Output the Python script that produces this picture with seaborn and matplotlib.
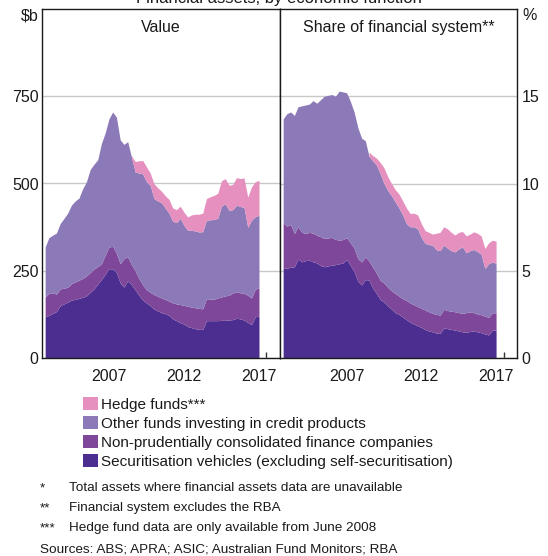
import numpy as np
import pandas as pd
import matplotlib
matplotlib.use("Agg")
import matplotlib.pyplot as plt
import seaborn as sns

sns.set_style("white")
plt.rcParams["font.family"] = ["Liberation Sans", "DejaVu Sans"]

# ---------------- data (quarterly) ----------------
dates = pd.date_range("2003-03-31", periods=58, freq="QE")
years = dates.year + dates.month / 12.0

series_labels = ["Securitisation vehicles (excluding self-securitisation)",
                 "Non-prudentially consolidated finance companies",
                 "Other funds investing in credit products",
                 "Hedge funds***"]
colors = ["#4b2e8f", "#7e479a", "#8c79b7", "#e590bf"]

# Value panel ($b): cumulative stack levels
value_sec_level = [118,122,128,133,150,155,160,166,168,171,174,178,188,198,212,225,240,256,255,245,
                   215,203,222,210,195,180,166,158,150,140,135,130,127,122,112,107,101,97,90,87,
                   84,82,82,107,107,107,107,108,108,109,110,114,112,109,102,96,118,120]
value_np_level = [175,185,187,183,198,200,203,213,218,223,228,235,245,255,262,270,295,318,320,300,
                  270,285,290,268,250,228,210,196,188,182,177,172,168,163,158,155,153,151,148,146,
                  144,142,141,170,169,168,172,175,178,180,186,190,187,185,180,172,197,201]
value_other_level = [318,345,352,358,385,400,415,438,450,458,485,505,540,555,568,615,645,685,705,690,
                     625,612,620,576,533,530,528,505,495,457,450,445,430,415,392,388,400,380,366,366,
                     364,361,362,395,396,397,400,435,442,423,425,438,434,432,374,395,405,409]
value_total_level = [np.nan] * 23 + [580,563,565,566,548,530,500,488,478,465,455,430,425,435,418,
                                     404,410,412,412,415,457,462,466,472,508,514,495,497,517,514,
                                     516,461,490,505,509]

# Share panel (%): cumulative stack levels
share_sec_level = [5.13,5.15,5.2,5.23,5.67,5.51,5.58,5.61,5.51,5.45,5.3,5.23,5.28,5.32,5.35,5.4,5.45,5.65,5.3,4.95,
                   4.4,4.18,4.5,4.45,4.0,3.7,3.35,3.2,3.0,2.8,2.6,2.5,2.35,2.2,2.05,1.95,1.85,1.75,1.63,1.55,
                   1.5,1.43,1.41,1.73,1.68,1.64,1.6,1.55,1.5,1.47,1.52,1.55,1.5,1.45,1.38,1.32,1.6,1.6]
share_np_level = [7.75,7.56,7.65,7.14,7.52,7.2,7.14,7.2,7.15,7.04,6.95,6.85,6.88,6.91,6.8,6.75,6.79,6.9,6.6,6.3,
                  5.7,5.5,5.8,5.55,5.2,4.85,4.45,4.3,4.05,3.85,3.7,3.55,3.4,3.3,3.15,3.05,2.95,2.85,2.75,2.65,
                  2.56,2.5,2.46,2.79,2.72,2.68,2.65,2.6,2.56,2.6,2.65,2.6,2.52,2.48,2.4,2.33,2.59,2.59]
share_other_level = [13.7,14.0,14.1,13.9,14.4,14.45,14.5,14.55,14.75,14.6,14.8,15.0,15.05,15.1,15.0,15.3,15.25,15.2,14.7,14.1,
                     13.2,12.6,12.45,11.55,11.3,11.05,10.55,10.0,9.6,9.3,8.95,8.6,8.2,7.7,7.52,7.52,7.4,6.9,6.57,6.5,
                     6.47,6.2,6.15,6.47,6.3,6.15,6.08,6.25,6.37,6.03,6.15,6.22,6.1,5.95,5.13,5.4,5.51,5.42]
share_total_level = [np.nan] * 23 + [11.8,11.6,11.45,11.2,10.9,10.4,10.0,9.65,9.4,9.0,8.6,8.28,8.3,8.2,7.7,
                                     7.3,7.2,7.1,7.15,7.2,7.52,7.4,7.2,7.05,7.2,7.25,7.0,7.1,7.23,7.15,
                                     7.0,6.28,6.6,6.75,6.7]


def components(levels):
    arr = np.array(levels, dtype=float)
    return np.vstack([arr[0], np.diff(arr, axis=0)])


value_comp = components([value_sec_level, value_np_level, value_other_level, value_total_level])
share_comp = components([share_sec_level, share_np_level, share_other_level, share_total_level])

# ---------------- figure ----------------
W, H = 548, 556
fig = plt.figure(figsize=(W / 100, H / 100), dpi=100)


def rect(x0, x1, y0, y1):
    return [x0 / W, 1 - y1 / H, (x1 - x0) / W, (y1 - y0) / H]


axL = fig.add_axes(rect(42, 280, 9, 358))
axR = fig.add_axes(rect(280, 517, 9, 358))

polys = axL.stackplot(years, value_comp, colors=colors, linewidth=0)
axR.stackplot(years, share_comp, colors=colors, linewidth=0)

fs = 11.5
for ax in (axL, axR):
    ax.set_xlim(2003.04, 2018.9)
    ax.set_xticks(np.arange(2004, 2019))
    ax.set_xticklabels([])
    ax.set_xticks([2007.5, 2012.5, 2017.5], minor=True)
    ax.set_xticklabels(["2007", "2012", "2017"], minor=True)
    ax.tick_params(axis="x", which="major", direction="in", length=4, width=1,
                   color="#333333", bottom=True)
    ax.tick_params(axis="x", which="minor", length=0, pad=8, labelsize=fs,
                   bottom=True, labelcolor="#1a1a1a")
    ax.xaxis.get_major_ticks()[-1].tick1line.set_color("#9a9a9a")
    ax.grid(False)
    ax.yaxis.grid(True, color="#c8c8c8", linewidth=1)
    ax.set_axisbelow(True)
    for s in ax.spines.values():
        s.set_visible(True)
        s.set_color("#1a1a1a")
        s.set_linewidth(1)

axL.set_ylim(0, 1000)
axL.set_yticks([0, 250, 500, 750])
axL.tick_params(axis="y", length=0, pad=2.5, labelsize=fs, labelcolor="#1a1a1a")

axR.set_ylim(0, 20)
axR.set_yticks([0, 5, 10, 15])
axR.yaxis.tick_right()
axR.tick_params(axis="y", length=0, pad=3.5, labelsize=fs, labelcolor="#1a1a1a",
                left=False, labelleft=False, right=True, labelright=True)

axL.text(0.5, 0.948, "Value", transform=axL.transAxes, ha="center", va="center",
         fontsize=fs, color="#1a1a1a")
axR.text(0.5, 0.948, "Share of financial system**", transform=axR.transAxes,
         ha="center", va="center", fontsize=fs, color="#1a1a1a")

fig.text(39 / W, 1 - 16 / H, r"\$b", ha="right", va="center", fontsize=fs, color="#1a1a1a")
fig.text(522 / W, 1 - 16 / H, "%", ha="left", va="center", fontsize=fs, color="#1a1a1a")
fig.text(279 / W, 1 - 3 / H, "Financial assets, by economic function", ha="center",
         va="baseline", fontsize=12, color="#1a1a1a")

fig.legend(polys[::-1], series_labels[::-1], loc="upper left",
           bbox_to_anchor=(83 / W, 1 - 397 / H), frameon=False, fontsize=11,
           handlelength=0.95, handleheight=0.95, handletextpad=0.2,
           labelspacing=0.27, borderpad=0, borderaxespad=0, labelcolor="#1a1a1a")

notes = [("*", "Total assets where financial assets data are unavailable", 488),
         ("**", "Financial system excludes the RBA", 508),
         ("***", "Hedge fund data are only available from June 2008", 528.5)]
for mark, txt, y in notes:
    fig.text(40 / W, 1 - y / H, mark, ha="left", va="center", fontsize=9.7, color="#1a1a1a")
    fig.text(69 / W, 1 - y / H, txt, ha="left", va="center", fontsize=9.7, color="#1a1a1a")
fig.text(40 / W, 1 - 550 / H, "Sources: ABS; APRA; ASIC; Australian Fund Monitors; RBA",
         ha="left", va="center", fontsize=9.7, color="#1a1a1a")

fig.savefig("out.png", dpi=100)
